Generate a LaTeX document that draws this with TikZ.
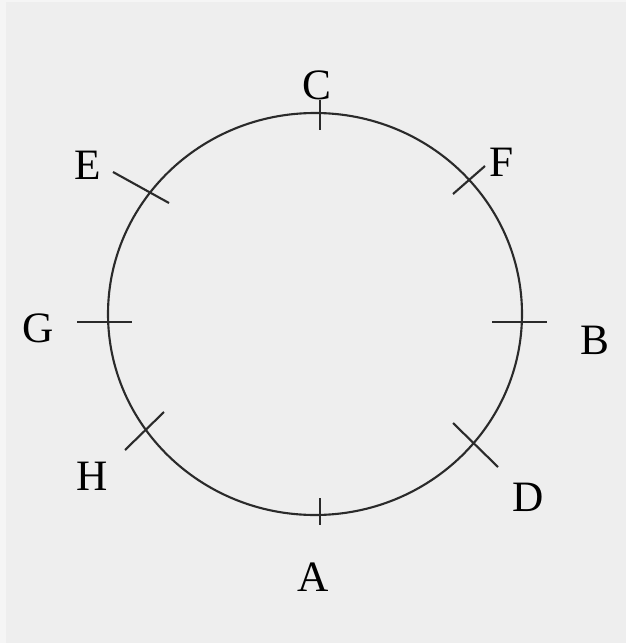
\documentclass[tikz,border=0pt]{standalone}
\usepackage{fontspec}
\setmainfont{Liberation Serif}
\usetikzlibrary{positioning}
\definecolor{bgouter}{HTML}{F5F5F5}
\definecolor{bginner}{HTML}{EEEEEE}
\definecolor{inkgray}{HTML}{2A2A2A}

\begin{document}
\begin{tikzpicture}[
  x=0.03cm, y=-0.03cm,
  letter/.style={font=\fontsize{37}{40}\selectfont, text=black, inner sep=0pt},
  tickmark/.style={draw=inkgray, line width=1.8pt},
  rim/.style={draw=inkgray, line width=1.8pt}
]

% Background
\fill[bgouter] (0,0) rectangle (626,643);
\fill[bginner] (6,2) rectangle (626,643);
\useasboundingbox (0,0) rectangle (626,643);

% Circle
\draw[rim] (315,314) ellipse [x radius=207, y radius=201];

% Tick ends
\coordinate (c1) at (320,100); \coordinate (c2) at (320,130);
\coordinate (f1) at (453,194); \coordinate (f2) at (485,166);
\coordinate (b1) at (492,322); \coordinate (b2) at (547,322);
\coordinate (d1) at (453,423); \coordinate (d2) at (498,467);
\coordinate (a1) at (320,498); \coordinate (a2) at (320,525);
\coordinate (h1) at (125,450); \coordinate (h2) at (164,412);
\coordinate (g1) at (77,322);  \coordinate (g2) at (132,322);
\coordinate (e1) at (113,172); \coordinate (e2) at (169,203);

% Ticks
\draw[tickmark] (c1) -- (c2);
\draw[tickmark] (f1) -- (f2);
\draw[tickmark] (b1) -- (b2);
\draw[tickmark] (d1) -- (d2);
\draw[tickmark] (a1) -- (a2);
\draw[tickmark] (h1) -- (h2);
\draw[tickmark] (g1) -- (g2);
\draw[tickmark] (e1) -- (e2);

% Letters
\node[letter] (C) at (317,85) {C};
\node[letter] (F) at (502,162) {F};
\node[letter] (B) at (595,340) {B};
\node[letter] (D) at (528,497) {D};
\node[letter] (A) at (313,577) {A};
\node[letter] (H) at (92,476) {H};
\node[letter] (G) at (38,328) {G};
\node[letter] (E) at (88,165) {E};
\end{tikzpicture}
\end{document}
